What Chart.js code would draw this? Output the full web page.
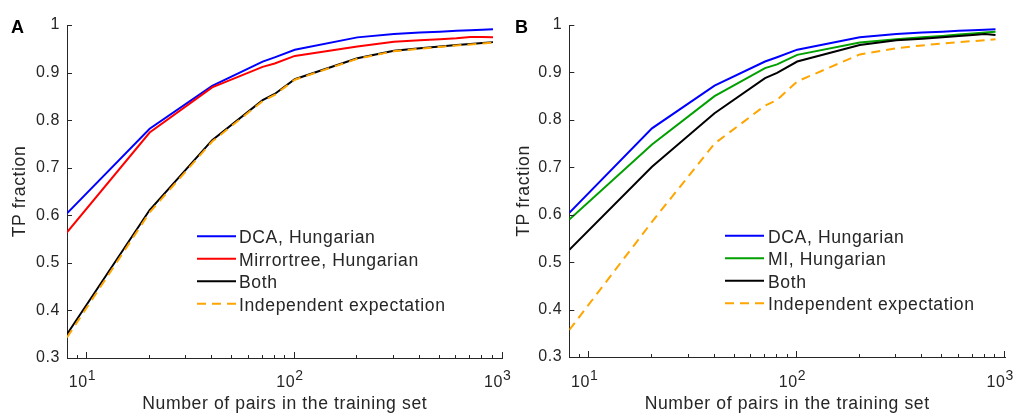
<!DOCTYPE html>
<html>
<head>
<meta charset="utf-8">
<script src="https://cdn.jsdelivr.net/npm/chart.js@4"></script>
<style>
  html, body { margin: 0; padding: 0; background: #fff; }
  #wrap { position: relative; width: 1022px; height: 416px; }
  .panel { position: absolute; top: 0; width: 511px; height: 416px; }
</style>
</head>
<body>
<div id="wrap">
  <div class="panel" style="left:0"><canvas id="chartA" width="511" height="416"></canvas></div>
  <div class="panel" style="left:511px"><canvas id="chartB" width="511" height="416"></canvas></div>
</div>
<script>
// Training-set sizes (number of pairs)
const pairs = [8, 20, 40, 70, 80, 100, 200, 300, 400, 500, 600, 700, 800, 900];

// Panel A: DCA vs Mirrortree
const dcaTP        = [0.604, 0.782, 0.872, 0.923, 0.932, 0.948, 0.974, 0.981, 0.984, 0.986, 0.988, 0.989, 0.990, 0.991];
const mirrortreeTP = [0.564, 0.774, 0.869, 0.912, 0.919, 0.935, 0.955, 0.965, 0.968, 0.970, 0.972, 0.975, 0.975, 0.974];
const bothA        = [0.350, 0.611, 0.758, 0.842, 0.855, 0.886, 0.930, 0.946, 0.951, 0.955, 0.958, 0.960, 0.962, 0.964];
const indepA       = [0.343, 0.606, 0.755, 0.840, 0.853, 0.885, 0.929, 0.945, 0.950, 0.954, 0.957, 0.959, 0.961, 0.963];

// Panel B: DCA vs MI
const miTP         = [0.590, 0.748, 0.850, 0.909, 0.917, 0.937, 0.963, 0.970, 0.974, 0.977, 0.980, 0.982, 0.984, 0.986];
const bothB        = [0.526, 0.701, 0.814, 0.888, 0.899, 0.923, 0.958, 0.968, 0.971, 0.974, 0.977, 0.979, 0.981, 0.979];
const indepB       = [0.357, 0.585, 0.750, 0.830, 0.842, 0.881, 0.938, 0.951, 0.957, 0.961, 0.964, 0.966, 0.968, 0.970];

// Axis ticks
const xMajorTicks = [10, 100, 1000];
const xTickExponents = ['1', '2', '3'];
const xMinorTicks = [9, 20, 30, 40, 50, 60, 70, 80, 90, 200, 300, 400, 500, 600, 700, 800, 900];
const yTicks = [0.3, 0.4, 0.5, 0.6, 0.7, 0.8, 0.9, 1];
const yTickLabels = ['0.3', '0.4', '0.5', '0.6', '0.7', '0.8', '0.9', '1'];

const FONT = "'Liberation Sans', Arial, Helvetica, sans-serif";
const INK = '#262626';
const LABEL_SIZE = 17.6;
const TICK_SIZE = 16;

const toPoints = ys => pairs.map((x, i) => ({ x, y: ys[i] }));

function series(label, values, color, order, dash) {
  return {
    label,
    data: toPoints(values),
    borderColor: color,
    backgroundColor: color,
    borderWidth: 2,
    borderDash: dash || [],
    pointRadius: 0,
    tension: 0,
    fill: false,
    order
  };
}

// Inward tick marks, 10^n labels, panel letter and an in-plot legend
const axisDecor = {
  id: 'axisDecor',
  beforeDraw(chart) {
    chart.ctx.letterSpacing = '0.6px';
  },
  afterDraw(chart, args, o) {
    const ctx = chart.ctx, xs = chart.scales.x, ys = chart.scales.y, a = chart.chartArea;
    ctx.save();
    ctx.strokeStyle = INK;
    ctx.lineWidth = 1;
    ctx.beginPath();
    xMajorTicks.forEach(v => {
      const px = Math.round(xs.getPixelForValue(v)) - 0.5;
      ctx.moveTo(px, a.bottom); ctx.lineTo(px, a.bottom - 6);
    });
    xMinorTicks.forEach(v => {
      const px = Math.round(xs.getPixelForValue(v)) - 0.5;
      ctx.moveTo(px, a.bottom); ctx.lineTo(px, a.bottom - 3);
    });
    yTicks.forEach(v => {
      const py = Math.round(ys.getPixelForValue(v)) + 0.5;
      ctx.moveTo(a.left, py); ctx.lineTo(a.left + 5, py);
    });
    ctx.stroke();

    // x tick labels: 10 with a raised exponent
    ctx.fillStyle = INK;
    ctx.textBaseline = 'alphabetic';
    xMajorTicks.forEach((v, i) => {
      const px = xs.getPixelForValue(v);
      ctx.font = TICK_SIZE + 'px ' + FONT;
      ctx.textAlign = 'right';
      ctx.fillText('10', px + 0.5, 387);
      ctx.font = '14px ' + FONT;
      ctx.textAlign = 'left';
      ctx.fillText(xTickExponents[i], px + 0.5, 379.5);
    });

    // panel letter
    ctx.fillStyle = '#000';
    ctx.font = 'bold 18px ' + FONT;
    ctx.textAlign = 'left';
    ctx.fillText(o.letter, o.letterX, 33);

    // legend
    ctx.font = LABEL_SIZE + 'px ' + FONT;
    ctx.fillStyle = INK;
    chart.data.datasets.forEach((ds, i) => {
      const base = o.legendBase + i * o.legendStep;
      const ly = base - 7;
      ctx.strokeStyle = ds.borderColor;
      ctx.lineWidth = 2;
      ctx.setLineDash(ds.borderDash || []);
      ctx.beginPath();
      ctx.moveTo(o.legendX0, ly); ctx.lineTo(o.legendX1, ly);
      ctx.stroke();
      ctx.setLineDash([]);
      ctx.fillText(ds.label, o.legendTextX, base);
    });
    ctx.restore();
  }
};

function makeChart(id, datasets, cfg) {
  return new Chart(document.getElementById(id), {
    type: 'line',
    data: { datasets },
    plugins: [axisDecor],
    options: {
      responsive: false,
      animation: false,
      events: [],
      layout: { padding: { left: 0, right: cfg.padRight, top: 25, bottom: 0 } },
      plugins: {
        legend: { display: false },
        tooltip: { enabled: false },
        axisDecor: cfg.decor
      },
      scales: {
        x: {
          type: 'logarithmic',
          min: 8,
          max: 1000,
          grid: { display: true, drawOnChartArea: false, drawTicks: false },
          border: { display: true, color: INK, width: 1 },
          ticks: { display: false },
          title: {
            display: true,
            text: 'Number of pairs in the training set',
            color: INK,
            font: { size: LABEL_SIZE, family: FONT },
            padding: { top: 0, bottom: 1.5 }
          },
          afterFit: s => { s.height = cfg.xHeight; }
        },
        y: {
          type: 'linear',
          min: 0.3,
          max: 1,
          grid: { display: true, drawOnChartArea: false, drawTicks: false },
          border: { display: true, color: INK, width: 1 },
          ticks: {
            stepSize: 0.1,
            color: INK,
            padding: 7,
            font: { size: TICK_SIZE, family: FONT },
            callback: v => {
              const k = yTicks.findIndex(t => Math.abs(t - v) < 1e-6);
              return k >= 0 ? yTickLabels[k] : '';
            }
          },
          title: {
            display: true,
            text: 'TP fraction',
            color: INK,
            font: { size: LABEL_SIZE, family: FONT },
            padding: { top: cfg.yTitlePad, bottom: 0 }
          },
          afterFit: s => { s.width = cfg.yWidth; }
        }
      }
    }
  });
}

makeChart('chartA', [
  series('DCA, Hungarian', dcaTP, '#0000ff', 3),
  series('Mirrortree, Hungarian', mirrortreeTP, '#ff0000', 2),
  series('Both', bothA, '#000000', 1),
  series('Independent expectation', indepA, '#ffa500', 0, [9, 6])
], {
  padRight: 8.5, xHeight: 58, yWidth: 67, yTitlePad: 10.0,
  decor: { letter: 'A', letterX: 11, legendX0: 197, legendX1: 236, legendTextX: 239, legendBase: 243.3, legendStep: 22.5 }
});

makeChart('chartB', [
  series('DCA, Hungarian', dcaTP, '#0000ff', 3),
  series('MI, Hungarian', miTP, '#00a000', 2),
  series('Both', bothB, '#000000', 1),
  series('Independent expectation', indepB, '#ffa500', 0, [9, 6])
], {
  padRight: 17, xHeight: 59, yWidth: 58.3, yTitlePad: 2.3,
  decor: { letter: 'B', letterX: 4, legendX0: 214, legendX1: 253, legendTextX: 257, legendBase: 242.7, legendStep: 22.5 }
});
</script>
</body>
</html>
